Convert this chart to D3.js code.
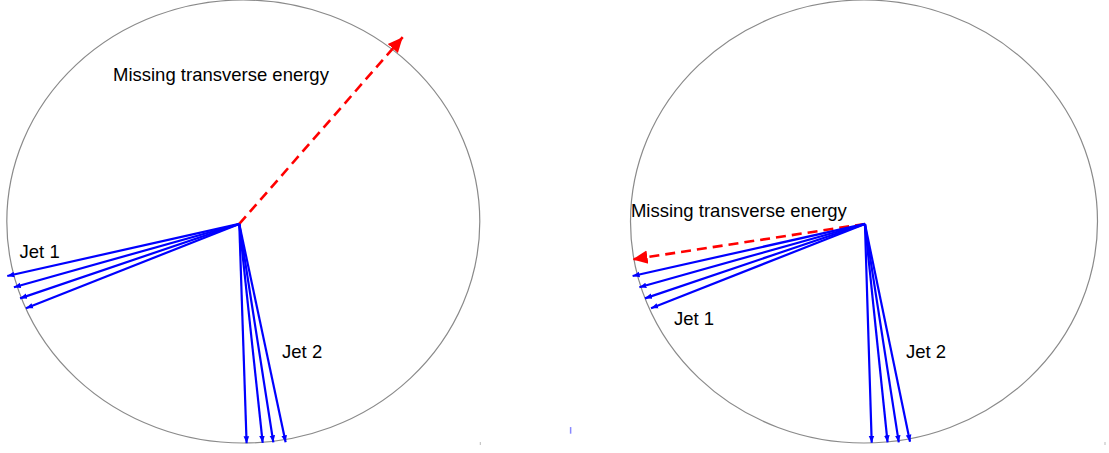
<!DOCTYPE html>
<meta charset="utf-8">
<head>
<style>
body { margin: 0; background: #fff; }
.ring { fill: none; stroke: #8a8a8a; stroke-width: 1.2px; }
.jet { stroke: #0000ff; stroke-width: 2.2px; fill: none; }
.met { stroke: #ff0000; stroke-width: 2.6px; fill: none; stroke-dasharray: 10 6; }
.lbl { font-family: "Liberation Sans", Arial, sans-serif; font-size: 18.5px; fill: #000; }
</style>
</head>
<body>
<script src="https://d3js.org/d3.v7.min.js"></script>
<script>

// panel data, all in detector units (ring radius = 1)
var panelNames = ["left", "right"];
var vertex = [[-0.017, -0.011], [0.004, -0.011]];
var jet1Tips = [
  [[-0.998, -0.246], [-0.970, -0.297], [-0.944, -0.347], [-0.919, -0.392]],
  [[-0.991, -0.246], [-0.962, -0.297], [-0.938, -0.347], [-0.912, -0.392]]
];
var jet2Tips = [
  [[0.014, -1.001], [0.082, -0.999], [0.127, -0.997], [0.179, -0.997]],
  [[0.033, -0.999], [0.101, -0.997], [0.149, -0.997], [0.197, -0.994]]
];
var metTips = [[0.674, 0.832], [-0.991, -0.171]];
var labelText = ["Missing transverse energy", "Jet 1", "Jet 2"];
var labelAt = [
  [[-0.551, 0.634], [-0.946, -0.167], [0.164, -0.616]],
  [[-0.998, 0.020], [-0.814, -0.467], [0.180, -0.616]]
];

// pixel frame of each ring
var frames = [
  {x0: 6.8, x1: 479.8, y0: 443, y1: 0},
  {x0: 630.5, x1: 1097.5, y0: 443, y1: 0}
];

var svg = d3.select("body").append("svg")
    .attr("width", 1109)
    .attr("height", 453);

var defs = svg.append("defs");
defs.append("marker")
    .attr("id", "headBlue")
    .attr("markerUnits", "userSpaceOnUse")
    .attr("viewBox", "0 -5 10 10")
    .attr("refX", 10).attr("refY", 0)
    .attr("markerWidth", 7).attr("markerHeight", 7)
    .attr("orient", "auto")
  .append("path")
    .attr("d", "M0,-4L10,0L0,4Z")
    .attr("fill", "#0000ff");
defs.append("marker")
    .attr("id", "headRed")
    .attr("markerUnits", "userSpaceOnUse")
    .attr("viewBox", "0 -5 10 10")
    .attr("refX", 10).attr("refY", 0)
    .attr("markerWidth", 15).attr("markerHeight", 15)
    .attr("orient", "auto")
  .append("path")
    .attr("d", "M0,-4.5L10,0L0,4.5Z")
    .attr("fill", "#ff0000");

panelNames.forEach(function(name, i) {
  var f = frames[i];
  var x = d3.scaleLinear().domain([-1, 1]).range([f.x0, f.x1]);
  var y = d3.scaleLinear().domain([-1, 1]).range([f.y0, f.y1]);
  var g = svg.append("g").attr("class", "panel-" + name);

  // detector ring
  g.append("ellipse")
    .attr("class", "ring")
    .attr("cx", x(0)).attr("cy", y(0))
    .attr("rx", x(1) - x(0)).attr("ry", y(-1) - y(0));

  var v = vertex[i];

  // missing energy (drawn first so jets overlay it)
  g.append("line")
    .attr("class", "met")
    .attr("x1", x(v[0])).attr("y1", y(v[1]))
    .attr("x2", x(metTips[i][0])).attr("y2", y(metTips[i][1]))
    .attr("marker-end", "url(#headRed)");

  // jets
  g.selectAll("line.jet")
    .data(jet1Tips[i].concat(jet2Tips[i]))
    .enter().append("line")
      .attr("class", "jet")
      .attr("x1", x(v[0])).attr("y1", y(v[1]))
      .attr("x2", function(d) { return x(d[0]); })
      .attr("y2", function(d) { return y(d[1]); })
      .attr("marker-end", "url(#headBlue)");

  // labels
  g.selectAll("text.lbl")
    .data(labelText)
    .enter().append("text")
      .attr("class", "lbl")
      .attr("x", function(d, j) { return x(labelAt[i][j][0]); })
      .attr("y", function(d, j) { return y(labelAt[i][j][1]); })
      .text(function(d) { return d; });

  // leftover tick specks at the frame corner
  g.append("rect")
    .attr("x", x(1.0) + (i ? 7 : 0)).attr("y", y(-1) - 1)
    .attr("width", 1).attr("height", 3)
    .attr("fill", "#bbb");
  if (i === 0) {
    g.append("line")
      .attr("x1", x(1.384)).attr("x2", x(1.384))
      .attr("y1", y(-0.928)).attr("y2", y(-0.958))
      .attr("stroke", "#8888ff").attr("stroke-width", 1.5);
  }
});

</script>
</body>
